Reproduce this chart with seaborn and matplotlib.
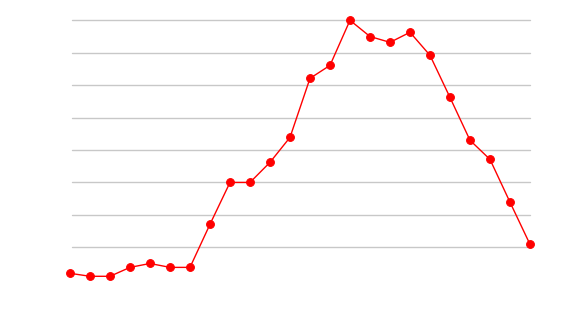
import matplotlib
matplotlib.use("Agg")
import matplotlib.pyplot as plt
import seaborn as sns
import pandas as pd

positions = list(range(24))
values = [1.97, 1.05, 1.05, 3.8, 5.0, 3.8, 3.8, 17.1, 30.0, 30.0, 36.2, 43.9,
          62.1, 66.1, 80.0, 75.0, 73.2, 76.3, 69.2, 56.2, 43.0, 37.1, 23.9, 10.9]
grid_levels = [10, 20, 30, 40, 50, 60, 70, 80]

df = pd.DataFrame({"x": positions, "y": values})

sns.set_theme(style="white")
fig = plt.figure(figsize=(5.7, 3.2), dpi=100)
ax = fig.add_axes([70/570, (320-279.7)/320, 460/570, 259.4/320])

for g in grid_levels:
    ax.axhline(g, xmin=2/460, xmax=1.0, color="#c8c8c8", linewidth=1.0,
               zorder=0, clip_on=False)

sns.lineplot(data=df, x="x", y="y", ax=ax, color="red", linewidth=1.0,
             marker="o", markersize=5.6, markeredgecolor="red",
             markerfacecolor="red", clip_on=False, zorder=3)

ax.set_xlim(0, 23)
ax.set_ylim(0, 80)
ax.set_xticks([])
ax.set_yticks([])
ax.set_xlabel("")
ax.set_ylabel("")
for s in ax.spines.values():
    s.set_visible(False)

fig.savefig("out.png", dpi=100)
